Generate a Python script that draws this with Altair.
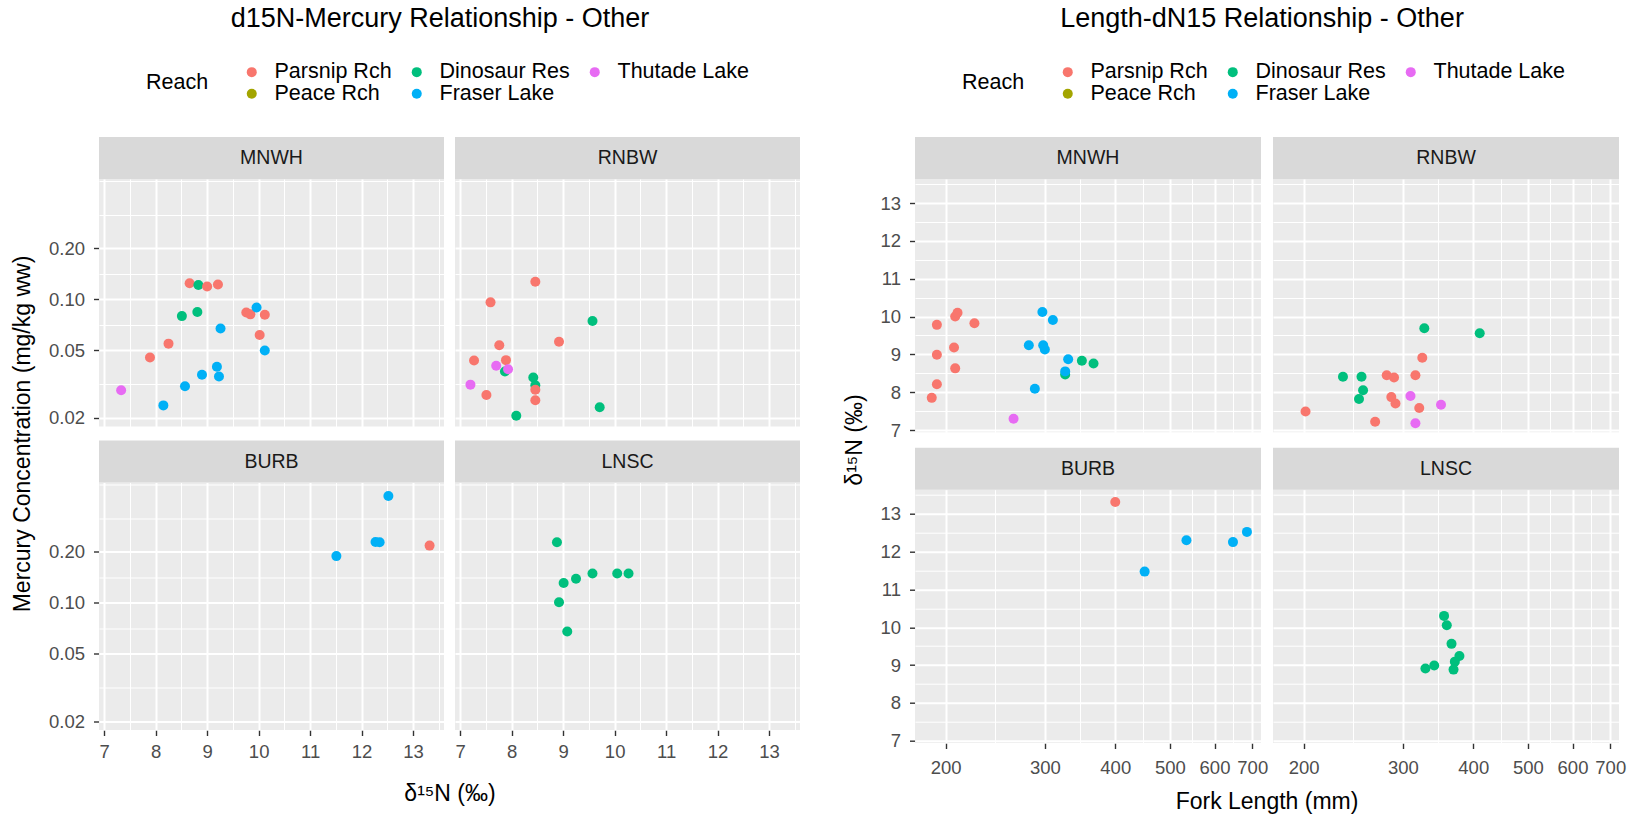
import math
import altair as alt
import pandas as pd

FONT = "Liberation Sans"

# Reach codes used in the data lists below
REACH_NAMES = {"P": "Parsnip Rch", "E": "Peace Rch", "D": "Dinosaur Res",
               "F": "Fraser Lake", "T": "Thutade Lake"}
# legend order: filled row by row in 3 columns
REACH_ORDER = ["Parsnip Rch", "Dinosaur Res", "Thutade Lake", "Peace Rch", "Fraser Lake"]
REACH_COLORS = ["#F8766D", "#00BF7D", "#E76BF3", "#A3A500", "#00B0F6"]

SPECIES = ["MNWH", "RNBW", "BURB", "LNSC"]
SPECIES_ROW = [0, 0, 1, 1]
SPECIES_COL = [0, 1, 0, 1]

# ---- d15N vs mercury concentration ----
hg_mnwh_reach = "TPPPDPPDDFFFFFFPPFPPF"
hg_mnwh_d15n = [7.33, 7.89, 8.25, 8.66, 8.83, 9.00, 9.21, 8.51, 8.81, 8.15, 8.57,
                8.90, 9.19, 9.23, 9.26, 9.76, 9.84, 9.96, 10.12, 10.02, 10.12]
hg_mnwh_hg = [0.029, 0.0453, 0.0547, 0.1245, 0.1217, 0.119, 0.1223, 0.0796, 0.0841,
              0.0236, 0.0306, 0.0358, 0.0399, 0.035, 0.0673, 0.0837, 0.0815, 0.0896,
              0.081, 0.0615, 0.0498]

hg_rnbw_reach = "PPDPPPPTDTTPDDPPDD"
hg_rnbw_d15n = [8.46, 7.59, 9.57, 8.92, 7.76, 7.27, 7.89, 7.70, 7.87, 7.93, 7.20,
                7.51, 8.42, 8.46, 8.46, 8.46, 8.09, 9.71]
hg_rnbw_hg = [0.127, 0.096, 0.0745, 0.0562, 0.0535, 0.0435, 0.0437, 0.0405, 0.0374,
              0.0386, 0.0313, 0.0272, 0.0345, 0.031, 0.0292, 0.0253, 0.0205, 0.023]

hg_burb_reach = "FFFFP"
hg_burb_d15n = [11.51, 12.27, 12.35, 12.52, 13.32]
hg_burb_hg = [0.189, 0.229, 0.228, 0.429, 0.218]

hg_lnsc_reach = "DDDDDDDD"
hg_lnsc_d15n = [8.88, 9.01, 9.25, 9.57, 10.05, 10.27, 8.92, 9.08]
hg_lnsc_hg = [0.228, 0.131, 0.139, 0.149, 0.149, 0.149, 0.1007, 0.0677]

# ---- fork length vs d15N ----
fl_mnwh_reach = "PPPPPPPPPTDDDFFFFFFFF"
fl_mnwh_len = [189, 193, 193, 193, 208, 207, 208, 210, 225, 264, 326, 349, 366,
               281, 288, 297, 298, 300, 310, 330, 326]
fl_mnwh_d15n = [7.85, 8.21, 8.99, 9.78, 8.63, 9.18, 10.00, 10.10, 9.82, 7.30, 8.47,
                8.83, 8.76, 9.24, 8.09, 10.12, 9.24, 9.13, 9.91, 8.87, 8.55]

fl_rnbw_reach = "DDPDDDDPPPPPTPTPPT"
fl_rnbw_len = [327.5, 410.7, 324.8, 234.9, 253.4, 255.0, 250.8, 280.9, 289.4, 315.8,
               286.2, 291.1, 309.5, 320.8, 350.6, 201.6, 267.9, 315.8]
fl_rnbw_d15n = [9.69, 9.56, 8.91, 8.41, 8.41, 8.05, 7.82, 8.45, 8.39, 8.45, 7.87,
                7.70, 7.90, 7.58, 7.67, 7.49, 7.22, 7.18]

fl_burb_reach = "PFFFF"
fl_burb_len = [400, 451, 535, 647, 685]
fl_burb_d15n = [13.31, 11.47, 12.30, 12.25, 12.52]

fl_lnsc_reach = "DDDDDDDD"
fl_lnsc_len = [355, 359, 366, 378, 371, 341, 329, 369]
fl_lnsc_d15n = [10.30, 10.05, 9.56, 9.24, 9.09, 8.99, 8.91, 8.88]

# ---- axis breaks (major + minor grid positions) ----
d15n_breaks = [7, 7.5, 8, 8.5, 9, 9.5, 10, 10.5, 11, 11.5, 12, 12.5, 13, 13.5]
hg_breaks = [0.02, math.sqrt(0.02 * 0.05), 0.05, math.sqrt(0.05 * 0.1), 0.1,
             math.sqrt(0.1 * 0.2), 0.2, math.sqrt(0.2 * 0.5), 0.5]
len_breaks = [200, math.sqrt(200 * 300), 300, math.sqrt(300 * 400), 400,
              math.sqrt(400 * 500), 500, math.sqrt(500 * 600), 600,
              math.sqrt(600 * 700), 700]

STRIP = 42
TICK_FONT = 18.5
STRIP_FONT = 19.5
AXIS_TITLE_FONT = 23


def frame(panels):
    rows = []
    for sp, r, c, (codes, xs, ys) in zip(SPECIES, SPECIES_ROW, SPECIES_COL, panels):
        for code, xv, yv in zip(codes, xs, ys):
            rows.append({"Species": sp, "row": r, "col": c,
                         "Reach": REACH_NAMES[code], "x": xv, "y": yv})
    return pd.DataFrame(rows)


def make_axis(values, major_test, label_expr, pad):
    return alt.Axis(
        values=values, title=None, grid=True, gridColor="white",
        gridWidth={"condition": {"test": major_test, "value": 2.0}, "value": 1.0},
        domain=False, labelOverlap=False, labelFlush=False, labelBound=False,
        labelExpr=f"({major_test}) ? {label_expr} : ''",
        tickOpacity={"condition": {"test": major_test, "value": 1}, "value": 0},
        tickColor="#333333", tickSize=5.5, tickWidth=1.4,
        labelFont=FONT, labelFontSize=TICK_FONT, labelColor="#4D4D4D", labelPadding=pad,
    )


def make_legend(lx, ly):
    return alt.Legend(
        orient="none", legendX=lx, legendY=ly, direction="horizontal", columns=3,
        title="Reach", titleOrient="left", titleAnchor="middle", titleBaseline="middle",
        titleFont=FONT, titleFontSize=21.5, titleFontWeight="normal",
        titleColor="black", titlePadding=32, labelFont=FONT, labelFontSize=21.5,
        labelColor="black", symbolType="circle", symbolSize=100, symbolStrokeWidth=0,
        symbolOpacity=1, columnPadding=14, rowPadding=-2.5, labelOffset=12,
    )


def make_title(text, center_x, offset):
    return alt.TitleParams(text=text, anchor="start", align="center", frame="group",
                           dx=center_x, offset=offset, font=FONT, fontSize=27,
                           fontWeight="normal", color="black")


def build_half(df, W, H, col_gap, row_gap, xscale, yscale, xaxis, yaxis,
               xtitle, ytitle, xpad, ypad, legend, title):
    strips = alt.Chart().transform_aggregate(n="count()", groupby=["Species", "row", "col"])
    rect = strips.mark_rect(color="#D9D9D9", strokeWidth=0).encode(
        x=alt.value(0), x2=alt.value(W), y=alt.value(-STRIP), y2=alt.value(0))
    label = strips.mark_text(
        font=FONT, fontSize=STRIP_FONT, color="#1A1A1A", baseline="middle", align="center"
    ).encode(x=alt.value(W / 2), y=alt.value(-STRIP / 2), text="Species:N")
    pts = alt.Chart().mark_circle(size=100, opacity=1).encode(
        x=alt.X("x:Q", scale=xscale, axis=xaxis),
        y=alt.Y("y:Q", scale=yscale, axis=yaxis),
        color=alt.Color("Reach:N", scale=alt.Scale(domain=REACH_ORDER, range=REACH_COLORS),
                        legend=legend),
    )
    cell = alt.layer(rect, label, pts, data=df).properties(width=W, height=H)
    return cell.facet(
        row=alt.Row("row:O", header=alt.Header(
            labels=False, title=ytitle, titleOrient="left", titleFont=FONT,
            titleFontSize=AXIS_TITLE_FONT, titleFontWeight="normal", titleColor="black",
            titlePadding=ypad)),
        column=alt.Column("col:O", header=alt.Header(
            labels=False, title=xtitle, titleOrient="bottom", titleFont=FONT,
            titleFontSize=AXIS_TITLE_FONT, titleFontWeight="normal", titleColor="black",
            titlePadding=xpad)),
        spacing={"row": row_gap, "column": col_gap},
        bounds="flush",
        title=title,
    )


# ---------- left half: d15N vs mercury ----------
hg_df = frame([
    (hg_mnwh_reach, hg_mnwh_d15n, hg_mnwh_hg),
    (hg_rnbw_reach, hg_rnbw_d15n, hg_rnbw_hg),
    (hg_burb_reach, hg_burb_d15n, hg_burb_hg),
    (hg_lnsc_reach, hg_lnsc_d15n, hg_lnsc_hg),
])
left_half = build_half(
    hg_df, 345, 247.5, 11, 55.5,
    alt.Scale(domain=[6.90, 13.60], nice=False, zero=False),
    alt.Scale(type="log", domain=[0.0177, 0.515], nice=False),
    make_axis(d15n_breaks, "datum.value % 1 === 0", "format(datum.value, 'd')", 7),
    make_axis(hg_breaks, "indexof([0.02, 0.05, 0.1, 0.2], datum.value) >= 0",
              "format(datum.value, '.2f')", 9),
    "δ¹⁵N (‰)", "Mercury Concentration (mg/kg ww)", 12, 3,
    make_legend(47, -118),
    make_title("d15N-Mercury Relationship - Other", 341, 28),
)

# ---------- right half: fork length vs d15N ----------
fl_df = frame([
    (fl_mnwh_reach, fl_mnwh_len, fl_mnwh_d15n),
    (fl_rnbw_reach, fl_rnbw_len, fl_rnbw_d15n),
    (fl_burb_reach, fl_burb_len, fl_burb_d15n),
    (fl_lnsc_reach, fl_lnsc_len, fl_lnsc_d15n),
])
right_half = build_half(
    fl_df, 346, 253.3, 12, 56.7,
    alt.Scale(type="log", domain=[176.5, 725.5], nice=False),
    alt.Scale(domain=[6.94, 13.635], nice=False, zero=False),
    make_axis(len_breaks, "datum.value % 100 === 0", "format(datum.value, 'd')", 10),
    make_axis(d15n_breaks, "datum.value % 1 === 0", "format(datum.value, 'd')", 9),
    "Fork Length (mm)", "δ¹⁵N (‰)", 4, 2,
    make_legend(47, -118),
    make_title("Length-dN15 Relationship - Other", 347, 28),
)

chart = (
    alt.hconcat(left_half, right_half, spacing=43)
    .resolve_scale(x="independent", y="independent", color="independent")
    .properties(padding={"left": 11, "top": 5, "right": 5, "bottom": 5},
                background="white")
    .configure_view(fill="#EBEBEB", strokeWidth=0)
)

chart.save("out.html", embed_options={"renderer": "svg", "actions": False})
